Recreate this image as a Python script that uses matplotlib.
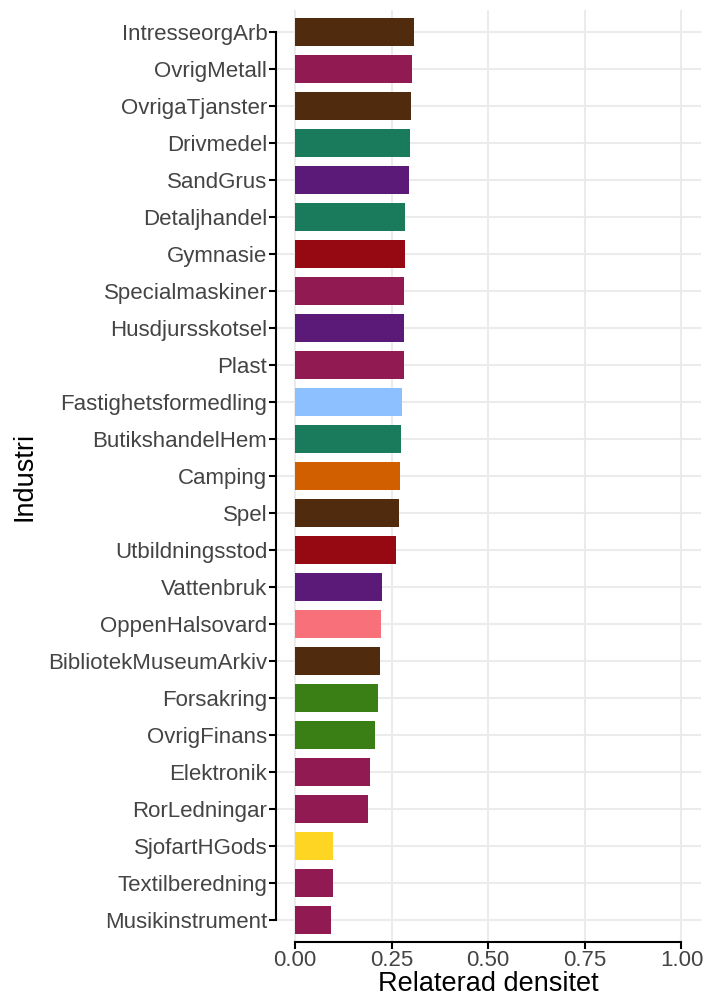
import matplotlib
matplotlib.use("Agg")
import matplotlib.pyplot as plt

plt.rcParams['font.family'] = ['Liberation Sans', 'DejaVu Sans']

# data (top to bottom)
industries = ["IntresseorgArb", "OvrigMetall", "OvrigaTjanster", "Drivmedel", "SandGrus",
              "Detaljhandel", "Gymnasie", "Specialmaskiner", "Husdjursskotsel", "Plast",
              "Fastighetsformedling", "ButikshandelHem", "Camping", "Spel", "Utbildningsstod",
              "Vattenbruk", "OppenHalsovard", "BibliotekMuseumArkiv", "Forsakring", "OvrigFinans",
              "Elektronik", "RorLedningar", "SjofartHGods", "Textilberedning", "Musikinstrument"]
density = [0.307, 0.303, 0.300, 0.297, 0.295,
           0.285, 0.284, 0.283, 0.282, 0.281,
           0.276, 0.274, 0.272, 0.268, 0.262,
           0.224, 0.222, 0.221, 0.215, 0.207,
           0.194, 0.190, 0.099, 0.099, 0.094]
colors = ["#512B0E", "#911A53", "#512B0E", "#1A7A5C", "#5C1A78",
          "#1A7A5C", "#960912", "#911A53", "#5C1A78", "#911A53",
          "#8CC0FF", "#1A7A5C", "#D15F00", "#512B0E", "#960912",
          "#5C1A78", "#F8717A", "#512B0E", "#3A7E16", "#3A7E16",
          "#911A53", "#911A53", "#FFD523", "#911A53", "#911A53"]
xticks = [0.0, 0.25, 0.5, 0.75, 1.0]

fig = plt.figure(figsize=(7.05, 9.99), dpi=100)
ax = fig.add_axes([0.391, 0.057, 0.603, 0.933])

ypos = list(range(len(industries)))[::-1]
ax.barh(ypos, density, height=0.74, color=colors, zorder=3)

ax.set_xlim(-0.05, 1.05)
ax.set_ylim(-0.6, len(industries) - 0.4)
ax.set_xticks(xticks)
ax.set_xticklabels([f"{t:.2f}" for t in xticks])
ax.set_yticks(ypos)
ax.set_yticklabels(industries)

# light grid behind bars
ax.grid(True, color="#EBEBEB", linewidth=1.5, zorder=0)
ax.set_axisbelow(True)

for s in ["top", "right"]:
    ax.spines[s].set_visible(False)
ax.spines["left"].set_bounds(0, len(industries) - 1)
ax.spines["bottom"].set_bounds(0, 1)
for s in ["left", "bottom"]:
    ax.spines[s].set_linewidth(1.5)
    ax.spines[s].set_color("black")

ax.tick_params(axis="both", length=5, width=1.5, color="black",
               labelsize=16, labelcolor="#444444", pad=1)

ax.set_xlabel("Relaterad densitet", fontsize=19.5, color="black", labelpad=0)
ax.set_ylabel("Industri", fontsize=19.5, color="black", labelpad=8)

fig.savefig("out.png", dpi=100)
